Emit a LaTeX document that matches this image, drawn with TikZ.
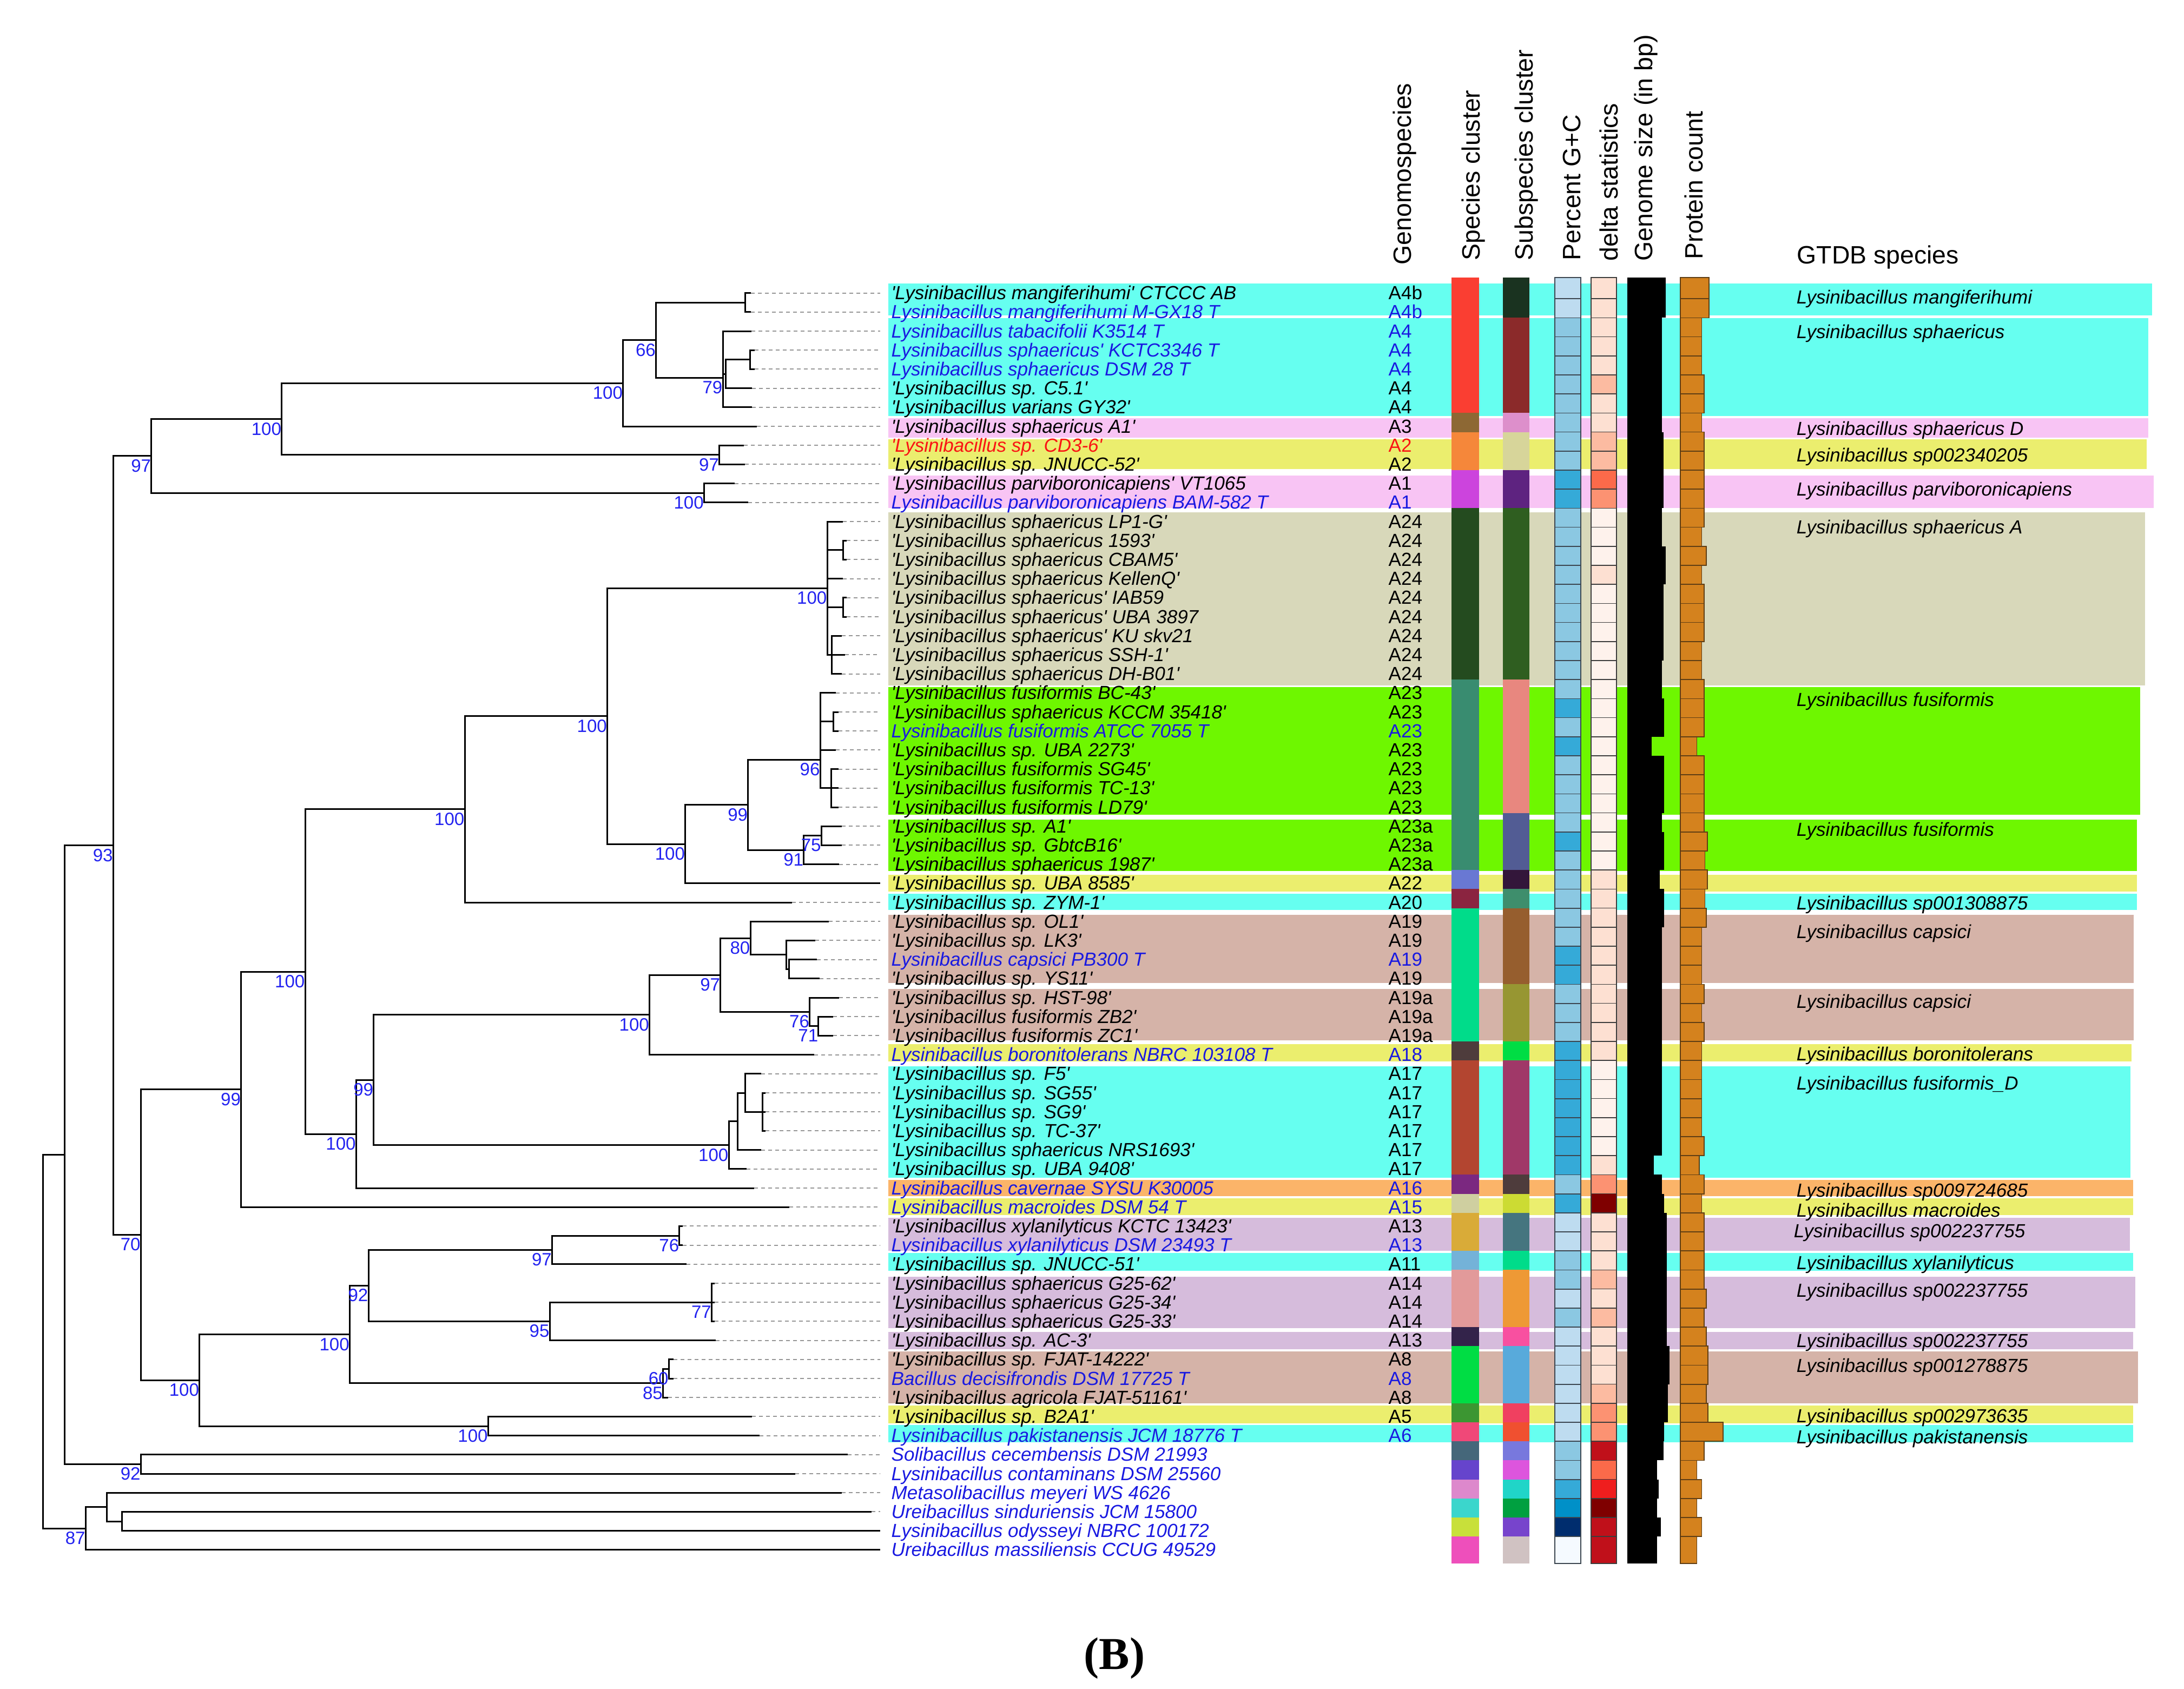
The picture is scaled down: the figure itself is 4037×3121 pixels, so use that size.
\documentclass[tikz,border=0pt]{standalone}
\usepackage{fontspec}
\newfontfamily\lf{Liberation Sans}
\newfontfamily\tf{Liberation Serif}
% label colours
\definecolor{txtB}{RGB}{25,25,225}
\definecolor{txtR}{RGB}{250,20,20}
\definecolor{supB}{RGB}{35,35,240}
% bands
\definecolor{cyanB}{RGB}{102,255,240}
\definecolor{pinkB}{RGB}{248,196,244}
\definecolor{yelB}{RGB}{235,238,110}
\definecolor{greiB}{RGB}{216,216,186}
\definecolor{grnB}{RGB}{110,247,0}
\definecolor{tanB}{RGB}{213,179,168}
\definecolor{oraB}{RGB}{251,180,105}
\definecolor{lavB}{RGB}{214,188,220}
% species cluster
\definecolor{sRed}{RGB}{250,62,50}
\definecolor{sBrown}{RGB}{141,104,52}
\definecolor{sOrange}{RGB}{245,135,58}
\definecolor{sMagenta}{RGB}{204,68,221}
\definecolor{sDkGreen}{RGB}{36,75,31}
\definecolor{sTeal}{RGB}{57,140,112}
\definecolor{sPeri}{RGB}{105,120,211}
\definecolor{sWine}{RGB}{139,36,64}
\definecolor{sSpring}{RGB}{0,220,138}
\definecolor{sTaupe}{RGB}{78,60,60}
\definecolor{sRust}{RGB}{179,69,48}
\definecolor{sPurple}{RGB}{123,40,128}
\definecolor{sKhaki}{RGB}{207,207,160}
\definecolor{sMustard}{RGB}{217,171,56}
\definecolor{sLtBlue}{RGB}{116,178,216}
\definecolor{sRose}{RGB}{226,154,154}
\definecolor{sNavy}{RGB}{51,35,74}
\definecolor{sGreen}{RGB}{0,221,68}
\definecolor{sMidGreen}{RGB}{60,150,50}
\definecolor{sPinkRed}{RGB}{240,72,120}
\definecolor{sSlate}{RGB}{69,103,122}
\definecolor{sViolet}{RGB}{102,68,204}
\definecolor{sOrchid}{RGB}{221,136,204}
\definecolor{sTurq}{RGB}{59,214,204}
\definecolor{sLime}{RGB}{200,224,58}
\definecolor{sHotPink}{RGB}{238,79,187}
% subspecies cluster
\definecolor{uDkGreen}{RGB}{26,51,32}
\definecolor{uDkRed}{RGB}{139,42,42}
\definecolor{uPink}{RGB}{221,143,203}
\definecolor{uKhaki}{RGB}{215,213,154}
\definecolor{uPurple}{RGB}{94,35,128}
\definecolor{uGreen}{RGB}{47,94,32}
\definecolor{uSalmon}{RGB}{232,135,127}
\definecolor{uSlateBlue}{RGB}{82,92,148}
\definecolor{uDkPurple}{RGB}{51,22,58}
\definecolor{uTealGreen}{RGB}{62,142,108}
\definecolor{uBrown}{RGB}{150,94,46}
\definecolor{uOlive}{RGB}{151,150,50}
\definecolor{uGreen2}{RGB}{0,221,68}
\definecolor{uRasp}{RGB}{160,56,104}
\definecolor{uTaupe}{RGB}{78,60,60}
\definecolor{uYG}{RGB}{204,219,51}
\definecolor{uSlateTeal}{RGB}{69,117,127}
\definecolor{uSpring}{RGB}{0,220,138}
\definecolor{uOrange}{RGB}{238,153,53}
\definecolor{uPink2}{RGB}{248,80,160}
\definecolor{uSky}{RGB}{88,170,219}
\definecolor{uRedPink}{RGB}{240,64,96}
\definecolor{uRedOr}{RGB}{240,80,48}
\definecolor{uPeri}{RGB}{120,120,221}
\definecolor{uMag}{RGB}{221,85,221}
\definecolor{uTurq}{RGB}{32,213,200}
\definecolor{uGreen3}{RGB}{0,160,64}
\definecolor{uViolet}{RGB}{119,68,204}
\definecolor{uLtTaupe}{RGB}{208,194,194}
% G+C
\definecolor{gL}{RGB}{190,220,240}
\definecolor{gM}{RGB}{139,200,226}
\definecolor{gD}{RGB}{53,170,216}
\definecolor{gX}{RGB}{0,144,200}
\definecolor{gN}{RGB}{0,45,110}
\definecolor{gW}{RGB}{245,250,255}
\definecolor{gcedge}{RGB}{60,70,80}
% delta
\definecolor{dW}{RGB}{254,242,236}
\definecolor{dP}{RGB}{253,224,210}
\definecolor{dL}{RGB}{252,187,161}
\definecolor{dS}{RGB}{252,146,114}
\definecolor{dO}{RGB}{251,106,74}
\definecolor{dR}{RGB}{239,30,30}
\definecolor{dD}{RGB}{192,16,26}
\definecolor{dK}{RGB}{127,0,0}
\definecolor{dedge}{RGB}{60,60,60}
% protein
\definecolor{protc}{RGB}{212,130,30}
\definecolor{protedge}{RGB}{95,62,20}
\definecolor{dashc}{RGB}{150,150,150}

\newcommand\Lab[4]{%
  \node[lbl,text=#2] (lab#1) at (1647,{ry(#1)+12}) {#3};
  \node[cod,text=#2] (cod#1) at (2566,{ry(#1)+12}) {#4};}
\newcommand\LabN[3]{%
  \node[lbl,text=#2] (lab#1) at (1647,{ry(#1)+12}) {#3};}

\begin{document}
\begin{tikzpicture}[x=0.01cm,y=-0.01cm,
  declare function={ry(\k)=541.6+35.2*(\k-1);},
  tree/.style={line width=0.85pt,black},
  dsh/.style={line width=0.55pt,dashc,dash pattern=on 2pt off 1.7pt},
  lbl/.style={anchor=base west,inner sep=0pt,font=\lf\itshape\fontsize{9.96}{12}\selectfont},
  cod/.style={anchor=base west,inner sep=0pt,font=\lf\fontsize{9.96}{12}\selectfont},
  sup/.style={anchor=north east,inner sep=0pt,yshift=-1.6pt,text=supB,font=\lf\fontsize{9.4}{11}\selectfont},
  hdr/.style={anchor=base west,inner sep=0pt,font=\lf\fontsize{13.2}{15}\selectfont},
  gt/.style={anchor=base west,inner sep=0pt,font=\lf\itshape\fontsize{9.96}{12}\selectfont}]
\useasboundingbox[fill=white] (0,0) rectangle (4037,3121);

% ---------- background bands ----------
\fill[cyanB] (1642,524) rectangle (3978,583.3);
\fill[cyanB] (1642,588.3) rectangle (3971,769.3);
\fill[pinkB] (1642,773.3) rectangle (3971,809.3);
\fill[yelB] (1642,811.7) rectangle (3968,866.7);
\fill[pinkB] (1642,879.3) rectangle (3981,939.3);
\fill[greiB] (1642,946.5) rectangle (3965,1267.4);
\fill[grnB] (1642,1269.6) rectangle (3956,1505.9);
\fill[grnB] (1642,1514.6) rectangle (3950,1610);
\fill[yelB] (1642,1616.5) rectangle (3950,1647.7);
\fill[cyanB] (1642,1652) rectangle (3950,1682.4);
\fill[tanB] (1642,1691) rectangle (3944,1816.8);
\fill[tanB] (1642,1827.7) rectangle (3944,1923);
\fill[yelB] (1642,1929.6) rectangle (3940,1962);
\fill[cyanB] (1642,1970.8) rectangle (3938,2176.8);
\fill[oraB] (1642,2181) rectangle (3943,2211.4);
\fill[yelB] (1642,2215) rectangle (3943,2246);
\fill[lavB] (1642,2250.5) rectangle (3937,2312);
\fill[cyanB] (1642,2316.4) rectangle (3943,2349);
\fill[lavB] (1642,2359.7) rectangle (3947,2455);
\fill[lavB] (1642,2461.6) rectangle (3943,2494);
\fill[tanB] (1642,2497.6) rectangle (3952,2594);
\fill[yelB] (1642,2598) rectangle (3943,2630.8);
\fill[cyanB] (1642,2633.8) rectangle (3943,2665.5);

% ---------- data columns ----------
\foreach \k/\sp/\ssp/\gc/\dl/\gr/\pr in {
1/sRed/uDkGreen/gL/dP/3079/3158.6,
2/sRed/uDkGreen/gL/dP/3079/3158.6,
3/sRed/uDkRed/gM/dP/3072/3145.4,
4/sRed/uDkRed/gM/dP/3072/3145.4,
5/sRed/uDkRed/gM/dP/3072/3145.4,
6/sRed/uDkRed/gM/dL/3072/3149.8,
7/sRed/uDkRed/gM/dP/3072/3149.8,
8/sBrown/uPink/gM/dP/3072/3145.4,
9/sOrange/uKhaki/gM/dL/3074.6/3149.8,
10/sOrange/uKhaki/gM/dL/3074.6/3149.8,
11/sMagenta/uPurple/gD/dO/3074.6/3149.8,
12/sMagenta/uPurple/gD/dS/3074.6/3149.8,
13/sDkGreen/uGreen/gM/dW/3072/3149.8,
14/sDkGreen/uGreen/gM/dW/3072/3145.4,
15/sDkGreen/uGreen/gM/dW/3079/3154.2,
16/sDkGreen/uGreen/gM/dP/3079/3145.4,
17/sDkGreen/uGreen/gM/dW/3074.6/3149.8,
18/sDkGreen/uGreen/gM/dW/3074.6/3149.8,
19/sDkGreen/uGreen/gM/dW/3074.6/3149.8,
20/sDkGreen/uGreen/gM/dW/3074.6/3145.4,
21/sDkGreen/uGreen/gM/dW/3072/3145.4,
22/sTeal/uSalmon/gM/dW/3072/3149.8,
23/sTeal/uSalmon/gD/dW/3076.4/3149.8,
24/sTeal/uSalmon/gM/dW/3076.4/3149.8,
25/sTeal/uSalmon/gD/dW/3052.5/3136.5,
26/sTeal/uSalmon/gM/dW/3076.4/3149.8,
27/sTeal/uSalmon/gM/dW/3076.4/3149.8,
28/sTeal/uSalmon/gM/dW/3076.4/3149.8,
29/sTeal/uSlateBlue/gM/dW/3072/3149.8,
30/sTeal/uSlateBlue/gD/dW/3076.4/3156,
31/sTeal/uSlateBlue/gM/dW/3076.4/3151.5,
32/sPeri/uDkPurple/gM/dP/3067.5/3156,
33/sWine/uTealGreen/gM/dP/3076.4/3151.5,
34/sSpring/uBrown/gM/dP/3076.4/3154.2,
35/sSpring/uBrown/gM/dP/3072/3145.4,
36/sSpring/uBrown/gD/dP/3072/3145.4,
37/sSpring/uBrown/gD/dP/3072/3145.4,
38/sSpring/uOlive/gM/dP/3072/3149.8,
39/sSpring/uOlive/gM/dP/3072/3145.4,
40/sSpring/uOlive/gM/dP/3072/3149.8,
41/sTaupe/uGreen2/gD/dP/3072/3145.4,
42/sRust/uRasp/gD/dW/3072/3145.4,
43/sRust/uRasp/gD/dW/3072/3145.4,
44/sRust/uRasp/gD/dW/3072/3145.4,
45/sRust/uRasp/gD/dW/3072/3145.4,
46/sRust/uRasp/gD/dW/3072/3149.8,
47/sRust/uRasp/gD/dP/3057/3141,
48/sPurple/uTaupe/gM/dS/3072/3149.8,
49/sKhaki/uYG/gD/dK/3076.4/3145.4,
50/sMustard/uSlateTeal/gL/dP/3080.8/3149.8,
51/sMustard/uSlateTeal/gL/dP/3080.8/3149.8,
52/sLtBlue/uSpring/gM/dP/3080.8/3149.8,
53/sRose/uOrange/gM/dL/3080.8/3149.8,
54/sRose/uOrange/gL/dP/3080.8/3154.2,
55/sRose/uOrange/gM/dL/3080.8/3149.8,
56/sNavy/uPink2/gL/dP/3080.8/3154.2,
57/sGreen/uSky/gL/dP/3086.1/3156.9,
58/sGreen/uSky/gL/dP/3086.1/3156.9,
59/sGreen/uSky/gL/dL/3083.4/3154.2,
60/sMidGreen/uRedPink/gL/dS/3083.4/3156.9,
61/sPinkRed/uRedOr/gL/dS/3076.4/3185.2,
62/sSlate/uPeri/gM/dD/3074.6/3149.8,
63/sViolet/uMag/gM/dO/3063/3136.5,
64/sOrchid/uTurq/gD/dR/3065.7/3145.4,
65/sTurq/uGreen3/gX/dK/3063/3136.5,
66/sLime/uViolet/gN/dD/3070/3145.4,
67/sHotPink/uLtTaupe/gW/dD/3063/3136.5}{
  \pgfmathsetmacro\yt{\k==1 ? 513 : 517+(\k-1)*35.2}
  \pgfmathsetmacro\yb{\k==67 ? 2890 : 517+\k*35.2}
  \fill[\sp] (2683,\yt) rectangle (2734,\yb);
  \fill[\ssp] (2778,\yt) rectangle (2827,\yb);
  \filldraw[fill=\gc,draw=gcedge,line width=0.5pt] (2874,\yt) rectangle (2922,\yb);
  \filldraw[fill=\dl,draw=dedge,line width=0.45pt] (2941,\yt) rectangle (2988,\yb);
  \fill[black] (3008,\yt) rectangle (\gr,\yb);
  \filldraw[fill=protc,draw=protedge,line width=0.5pt] (3106,\yt) rectangle (\pr,\yb);
}

% ---------- column headers ----------
\node[hdr,rotate=90] (h1) at (2608,490) {Genomospecies};
\node[hdr,rotate=90] (h2) at (2735,482) {Species cluster};
\node[hdr,rotate=90] (h3) at (2833,482) {Subspecies cluster};
\node[hdr,rotate=90] (h4) at (2921,482) {Percent G+C};
\node[hdr,rotate=90] (h5) at (2990,483) {delta statistics};
\node[hdr,rotate=90] (h6) at (3054,483) {Genome size (in bp)};
\node[hdr,rotate=90] (h7) at (3147,480) {Protein count};
\node[hdr] (h8) at (3321,487) {GTDB species};

% ---------- GTDB species labels ----------
\node[gt] (g1) at (3320,561) {Lysinibacillus mangiferihumi};
\node[gt] (g2) at (3320,625) {Lysinibacillus sphaericus};
\node[gt] (g3) at (3320,804) {Lysinibacillus sphaericus D};
\node[gt] (g4) at (3320,853) {Lysinibacillus sp002340205};
\node[gt] (g5) at (3320,916) {Lysinibacillus parviboronicapiens};
\node[gt] (g6) at (3320,986) {Lysinibacillus sphaericus A};
\node[gt] (g7) at (3320,1305) {Lysinibacillus fusiformis};
\node[gt] (g8) at (3320,1545) {Lysinibacillus fusiformis};
\node[gt] (g10) at (3320,1681) {Lysinibacillus sp001308875};
\node[gt] (g11) at (3320,1734) {Lysinibacillus capsici};
\node[gt] (g12) at (3320,1863) {Lysinibacillus capsici};
\node[gt] (g13) at (3320,1960) {Lysinibacillus boronitolerans};
\node[gt] (g14) at (3320,2014) {Lysinibacillus fusiformis\_D};
\node[gt] (g15) at (3320,2212) {Lysinibacillus sp009724685};
\node[gt] (g16) at (3320,2249) {Lysinibacillus macroides};
\node[gt] (g17) at (3315,2287) {Lysinibacillus sp002237755};
\node[gt] (g18) at (3320,2346) {Lysinibacillus xylanilyticus};
\node[gt] (g19) at (3320,2397) {Lysinibacillus sp002237755};
\node[gt] (g20) at (3320,2490) {Lysinibacillus sp002237755};
\node[gt] (g21) at (3320,2536) {Lysinibacillus sp001278875};
\node[gt] (g22) at (3320,2629) {Lysinibacillus sp002973635};
\node[gt] (g23) at (3320,2668) {Lysinibacillus pakistanensis};

% ---------- tip labels ----------
\Lab{1}{black}{'Lysinibacillus mangiferihumi' CTCCC AB}{A4b}
\Lab{2}{txtB}{Lysinibacillus mangiferihumi M-GX18 T}{A4b}
\Lab{3}{txtB}{Lysinibacillus tabacifolii K3514 T}{A4}
\Lab{4}{txtB}{Lysinibacillus sphaericus' KCTC3346 T}{A4}
\Lab{5}{txtB}{Lysinibacillus sphaericus DSM 28 T}{A4}
\Lab{6}{black}{'Lysinibacillus sp. C5.1'}{A4}
\Lab{7}{black}{'Lysinibacillus varians GY32'}{A4}
\Lab{8}{black}{'Lysinibacillus sphaericus A1'}{A3}
\Lab{9}{txtR}{'Lysinibacillus sp. CD3-6'}{A2}
\Lab{10}{black}{'Lysinibacillus sp. JNUCC-52'}{A2}
\Lab{11}{black}{'Lysinibacillus parviboronicapiens' VT1065}{A1}
\Lab{12}{txtB}{Lysinibacillus parviboronicapiens BAM-582 T}{A1}
\Lab{13}{black}{'Lysinibacillus sphaericus LP1-G'}{A24}
\Lab{14}{black}{'Lysinibacillus sphaericus 1593'}{A24}
\Lab{15}{black}{'Lysinibacillus sphaericus CBAM5'}{A24}
\Lab{16}{black}{'Lysinibacillus sphaericus KellenQ'}{A24}
\Lab{17}{black}{'Lysinibacillus sphaericus' IAB59}{A24}
\Lab{18}{black}{'Lysinibacillus sphaericus' UBA 3897}{A24}
\Lab{19}{black}{'Lysinibacillus sphaericus' KU skv21}{A24}
\Lab{20}{black}{'Lysinibacillus sphaericus SSH-1'}{A24}
\Lab{21}{black}{'Lysinibacillus sphaericus DH-B01'}{A24}
\Lab{22}{black}{'Lysinibacillus fusiformis BC-43'}{A23}
\Lab{23}{black}{'Lysinibacillus sphaericus KCCM 35418'}{A23}
\Lab{24}{txtB}{Lysinibacillus fusiformis ATCC 7055 T}{A23}
\Lab{25}{black}{'Lysinibacillus sp. UBA 2273'}{A23}
\Lab{26}{black}{'Lysinibacillus fusiformis SG45'}{A23}
\Lab{27}{black}{'Lysinibacillus fusiformis TC-13'}{A23}
\Lab{28}{black}{'Lysinibacillus fusiformis LD79'}{A23}
\Lab{29}{black}{'Lysinibacillus sp. A1'}{A23a}
\Lab{30}{black}{'Lysinibacillus sp. GbtcB16'}{A23a}
\Lab{31}{black}{'Lysinibacillus sphaericus 1987'}{A23a}
\Lab{32}{black}{'Lysinibacillus sp. UBA 8585'}{A22}
\Lab{33}{black}{'Lysinibacillus sp. ZYM-1'}{A20}
\Lab{34}{black}{'Lysinibacillus sp. OL1'}{A19}
\Lab{35}{black}{'Lysinibacillus sp. LK3'}{A19}
\Lab{36}{txtB}{Lysinibacillus capsici PB300 T}{A19}
\Lab{37}{black}{'Lysinibacillus sp. YS11'}{A19}
\Lab{38}{black}{'Lysinibacillus sp. HST-98'}{A19a}
\Lab{39}{black}{'Lysinibacillus fusiformis ZB2'}{A19a}
\Lab{40}{black}{'Lysinibacillus fusiformis ZC1'}{A19a}
\Lab{41}{txtB}{Lysinibacillus boronitolerans NBRC 103108 T}{A18}
\Lab{42}{black}{'Lysinibacillus sp. F5'}{A17}
\Lab{43}{black}{'Lysinibacillus sp. SG55'}{A17}
\Lab{44}{black}{'Lysinibacillus sp. SG9'}{A17}
\Lab{45}{black}{'Lysinibacillus sp. TC-37'}{A17}
\Lab{46}{black}{'Lysinibacillus sphaericus NRS1693'}{A17}
\Lab{47}{black}{'Lysinibacillus sp. UBA 9408'}{A17}
\Lab{48}{txtB}{Lysinibacillus cavernae SYSU K30005}{A16}
\Lab{49}{txtB}{Lysinibacillus macroides DSM 54 T}{A15}
\Lab{50}{black}{'Lysinibacillus xylanilyticus KCTC 13423'}{A13}
\Lab{51}{txtB}{Lysinibacillus xylanilyticus DSM 23493 T}{A13}
\Lab{52}{black}{'Lysinibacillus sp. JNUCC-51'}{A11}
\Lab{53}{black}{'Lysinibacillus sphaericus G25-62'}{A14}
\Lab{54}{black}{'Lysinibacillus sphaericus G25-34'}{A14}
\Lab{55}{black}{'Lysinibacillus sphaericus G25-33'}{A14}
\Lab{56}{black}{'Lysinibacillus sp. AC-3'}{A13}
\Lab{57}{black}{'Lysinibacillus sp. FJAT-14222'}{A8}
\Lab{58}{txtB}{Bacillus decisifrondis DSM 17725 T}{A8}
\Lab{59}{black}{'Lysinibacillus agricola FJAT-51161'}{A8}
\Lab{60}{black}{'Lysinibacillus sp. B2A1'}{A5}
\Lab{61}{txtB}{Lysinibacillus pakistanensis JCM 18776 T}{A6}
\LabN{62}{txtB}{Solibacillus cecembensis DSM 21993}
\LabN{63}{txtB}{Lysinibacillus contaminans DSM 25560}
\LabN{64}{txtB}{Metasolibacillus meyeri WS 4626}
\LabN{65}{txtB}{Ureibacillus sinduriensis JCM 15800}
\LabN{66}{txtB}{Lysinibacillus odysseyi NBRC 100172}
\LabN{67}{txtB}{Ureibacillus massiliensis CCUG 49529}

% ---------- tree: internal nodes ----------
\coordinate (A) at (1377,{ry(1.5)});
\coordinate (B) at (1212.5,{ry(3.475)});
\coordinate (C) at (1336,{ry(5.45)});
\coordinate (C2) at (1341,{ry(5.25)});
\coordinate (D) at (1386,{ry(4.5)});
\coordinate (E) at (1151.7,{ry(5.7375)});
\coordinate (F) at (520.6,{ry(7.61875)});
\coordinate (G) at (1329.6,{ry(9.5)});
\coordinate (H) at (279.8,{ry(9.559)});
\coordinate (I) at (1301.4,{ry(11.5)});
\coordinate (J) at (209.3,{ry(30.008)});
\coordinate (K) at (260.3,{ry(50.456)});
\coordinate (L) at (119.3,{ry(46.254)});
\coordinate (M) at (260.3,{ry(62.5)});
\coordinate (R) at (79.2,{ry(56.06)});
\coordinate (N) at (158.3,{ry(65.875)});
\coordinate (O) at (197.4,{ry(64.75)});
\coordinate (P) at (225.6,{ry(65.5)});
\coordinate (Q) at (445.7,{ry(42.818)});
\coordinate (T) at (564,{ry(36.637)});
\coordinate (U) at (859,{ry(28.109)});
\coordinate (W) at (1122.5,{ry(23.219)});
\coordinate (Xn) at (1529,{ry(16.5)});
\coordinate (X1) at (1558.4,{ry(14.5)});
\coordinate (X2) at (1558.4,{ry(17.5)});
\coordinate (X3) at (1537.8,{ry(20)});
\coordinate (Yn) at (1266.7,{ry(29.9375)});
\coordinate (Z) at (1382.7,{ry(27.875)});
\coordinate (AA) at (1516.1,{ry(25.5)});
\coordinate (AA1) at (1540,{ry(23.5)});
\coordinate (AA2) at (1536.7,{ry(27)});
\coordinate (AB) at (1485.8,{ry(30.25)});
\coordinate (AB1) at (1518.3,{ry(29.5)});
\coordinate (V) at (658.3,{ry(45.164)});
\coordinate (VA) at (690.8,{ry(42.328)});
\coordinate (VB) at (1200.5,{ry(38.906)});
\coordinate (VB1) at (1331.8,{ry(36.8125)});
\coordinate (VB2) at (1387,{ry(34.875)});
\coordinate (VB2a) at (1453.2,{ry(35.75)});
\coordinate (VB2b) at (1458.7,{ry(36.5)});
\coordinate (VB3) at (1496.6,{ry(38.75)});
\coordinate (VB3a) at (1512.9,{ry(39.5)});
\coordinate (VC) at (1347,{ry(45.75)});
\coordinate (VC1) at (1363.2,{ry(44.5)});
\coordinate (VC2) at (1377.3,{ry(43)});
\coordinate (VC3) at (1409.9,{ry(44)});
\coordinate (S) at (368.7,{ry(58.094)});
\coordinate (SA) at (646.4,{ry(55.6875)});
\coordinate (SA1) at (681,{ry(53.125)});
\coordinate (SA1a) at (1020.5,{ry(51.25)});
\coordinate (SA1a1) at (1255.9,{ry(50.5)});
\coordinate (SA1b) at (1016.2,{ry(55)});
\coordinate (SA1b1) at (1315.5,{ry(54)});
\coordinate (SA2) at (1225.5,{ry(58.25)});
\coordinate (SA2a) at (1236.3,{ry(57.5)});
\coordinate (SB) at (902.3,{ry(60.5)});

% ---------- tree: leaf tips and dash ends ----------
\foreach \k/\tx in {1/1388,2/1388,3/1389,4/1395,5/1395,6/1390,7/1390,8/1399,9/1375,10/1377,
11/1358,12/1383,13/1558,14/1565,15/1565,16/1558,17/1565,18/1565,19/1556,20/1562,
21/1556,22/1545,23/1550,24/1550,25/1545,26/1550,27/1550,28/1550,29/1556,30/1556,
31/1551,32/1627,33/1464,34/1532,35/1507,36/1510,37/1515,38/1551,39/1540,40/1540,
41/1505,42/1407,43/1415,44/1415,45/1415,46/1407,47/1380,48/1394,49/1459,50/1262,
51/1262,52/1269,53/1321,54/1321,55/1321,56/1323,57/1245,58/1245,59/1235,60/1390,
61/1404,62/1567,63/1470,64/1556,65/1611,66/1627,67/1627}{
  \coordinate (t\k) at (\tx,{ry(\k)});
  \coordinate (e\k) at (1627,{ry(\k)});
}
\foreach \k in {1,...,31,33,34,...,65}{
  \draw[dsh] (t\k) -- (e\k);
}

% ---------- tree: branches ----------
\foreach \p/\c in {A/t1,A/t2,B/A,B/C,C/t3,C/C2,C/t7,C2/D,C2/t6,D/t4,D/t5,E/B,E/t8,
F/E,F/G,G/t9,G/t10,H/F,H/I,I/t11,I/t12,J/H,J/K,K/Q,K/S,L/J,L/M,M/t62,M/t63,
R/L,R/N,N/O,N/t67,O/t64,O/P,P/t65,P/t66,Q/T,Q/t49,T/U,T/V,U/W,U/t33,W/Xn,W/Yn,
Xn/t13,Xn/X1,Xn/t16,Xn/X2,Xn/X3,X1/t14,X1/t15,X2/t17,X2/t18,X3/t19,X3/t20,X3/t21,
Yn/Z,Yn/t32,Z/AA,Z/AB,AA/t22,AA/AA1,AA/t25,AA/AA2,AA1/t23,AA1/t24,AA2/t26,AA2/t27,
AA2/t28,AB/AB1,AB/t31,AB1/t29,AB1/t30,V/VA,V/t48,VA/VB,VA/VC,VB/VB1,VB/t41,
VB1/VB2,VB1/VB3,VB2/t34,VB2/VB2a,VB2a/t35,VB2a/VB2b,VB2b/t36,VB2b/t37,VB3/t38,
VB3/VB3a,VB3a/t39,VB3a/t40,VC/VC1,VC/t47,VC1/VC2,VC1/t46,VC2/t42,VC2/VC3,
VC3/t43,VC3/t44,VC3/t45,S/SA,S/SB,SA/SA1,SA/SA2,SA1/SA1a,SA1/SA1b,SA1a/SA1a1,
SA1a/t52,SA1a1/t50,SA1a1/t51,SA1b/SA1b1,SA1b/t56,SA1b1/t53,SA1b1/t54,SA1b1/t55,
SA2/SA2a,SA2/t59,SA2a/t57,SA2a/t58,SB/t60,SB/t61}{
  \draw[tree] (\p) |- (\c);
}

% ---------- support values ----------
\foreach \n/\v in {B/66,C/79,E/100,G/97,F/100,I/100,H/97,J/93,Xn/100,W/100,U/100,
AA/96,Z/99,AB/91,AB1/75,Yn/100,T/100,Q/99,V/100,VA/99,VB/100,VB1/97,VB2/80,VB3/76,
VB3a/71,VC/100,K/70,S/100,SA/100,SA1/92,SA1a/97,SA1a1/76,SA1b/95,SA1b1/77,SA2a/60,
SA2/85,SB/100,M/92,N/87}{
  \node[sup] (s\n) at (\n) {\v};
}

% ---------- panel letter ----------
\node[anchor=base,inner sep=0pt,font=\tf\bfseries\fontsize{24}{28}\selectfont] (cap) at (2060,3085) {(B)};
\end{tikzpicture}
\end{document}
